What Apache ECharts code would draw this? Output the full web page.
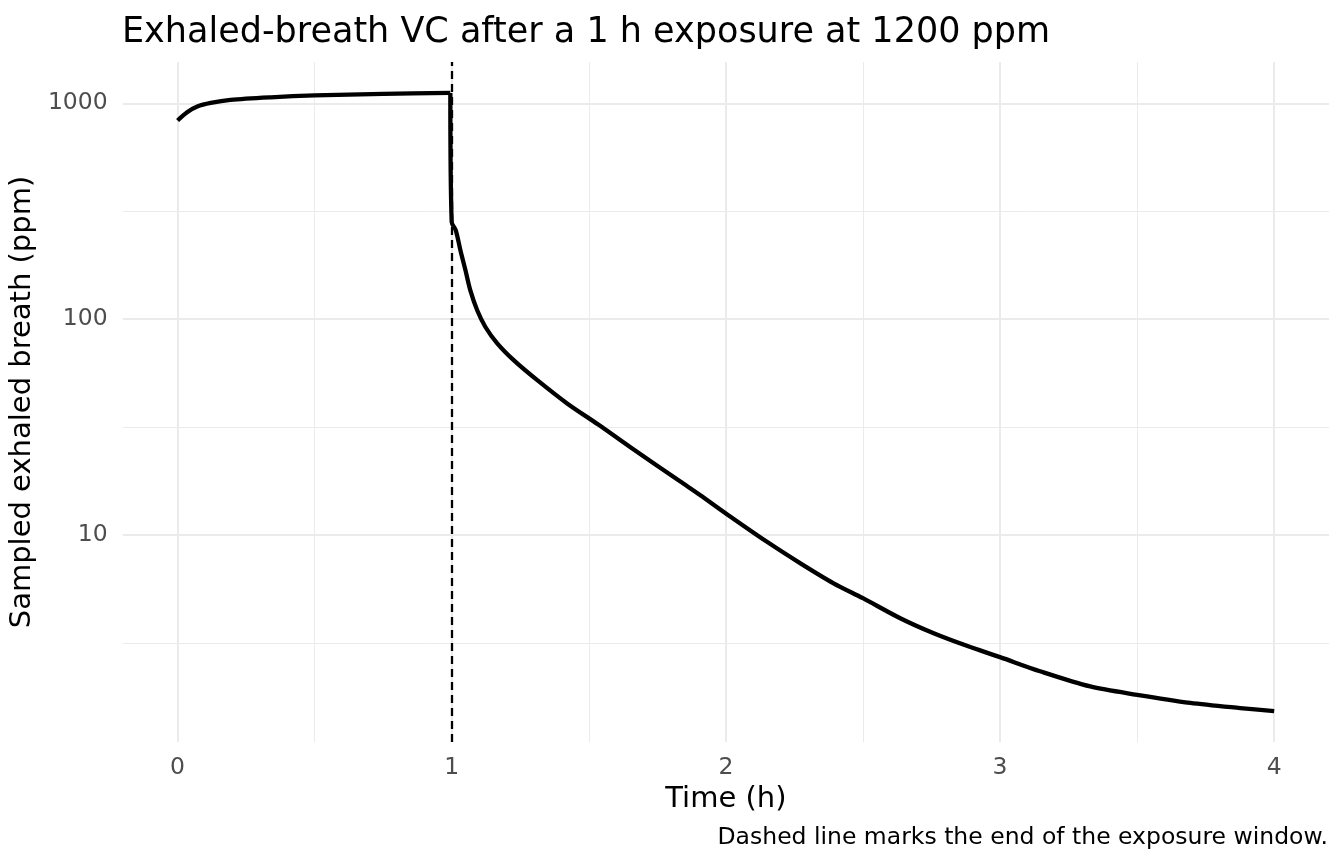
<!DOCTYPE html>
<html lang="en">
<head>
    <meta charset="UTF-8">
    <title>Exhaled-breath VC</title>
    <script src="https://cdn.jsdelivr.net/npm/echarts@6/dist/echarts.min.js"></script>
    <style>
        html, body { margin: 0; padding: 0; background: #fff; }
        #chart { width: 1344px; height: 864px; }
    </style>
</head>
<body>
<div id="chart"></div>
<script>
    // time since start of exposure (h) and sampled exhaled breath (ppm)
    const timeH = [0, 0.035, 0.072, 0.121, 0.193, 0.34, 0.5, 0.75, 0.995,
        1.0, 1.015, 1.032, 1.05, 1.068, 1.093, 1.123, 1.166, 1.226, 1.311, 1.421,
        1.536, 1.652, 1.834, 1.907, 2.0, 2.15, 2.272, 2.393, 2.5, 2.636, 2.758,
        2.879, 3.0, 3.146, 3.329, 3.5, 3.694, 3.876, 4.0];
    const breathPpm = [832, 909, 966, 1004, 1037, 1066, 1087, 1106, 1117,
        282, 258, 208, 169, 136, 110, 92, 77.3, 64.6, 52.3, 40.7,
        32.4, 25.5, 17.7, 15.3, 12.6, 9.31, 7.40, 5.98, 5.10, 4.12, 3.51,
        3.07, 2.72, 2.34, 1.99, 1.82, 1.67, 1.58, 1.53];

    const exposureEnd = 1;
    const xBreaks = [0, 1, 2, 3, 4];
    const xMinorBreaks = [0.5, 1.5, 2.5, 3.5];
    const yBreaks = [10, 100, 1000];
    const yMinorBreaks = [Math.sqrt(10), Math.sqrt(1000), Math.sqrt(100000)];

    // ggplot style 5% expansion of the data range (log space for y)
    const xMin = -0.2, xMax = 4.2;
    const lo = Math.log10(Math.min(...breathPpm)), hi = Math.log10(Math.max(...breathPpm));
    const pad = (hi - lo) * 0.05;
    const yMin = Math.pow(10, lo - pad), yMax = Math.pow(10, hi + pad);

    // split at the last sample before the drop so smoothing does not bulge over the corner
    const points = timeH.map((t, i) => [t, breathPpm[i]]);
    const lastIn = timeH.filter(t => t < exposureEnd).length - 1;
    const during = points.slice(0, lastIn + 1);
    const after = points.slice(lastIn);

    const gridColor = '#EBEBEB';
    const font = 'DejaVu Sans';
    const curveStyle = {color: '#000', width: 4.3, join: 'round', cap: 'butt'};

    function hiddenAxis(extra) {
        return Object.assign({
            axisLine: {show: false},
            axisTick: {show: false},
            axisLabel: {show: false},
            splitLine: {show: true, lineStyle: {color: gridColor, width: 1}}
        }, extra);
    }

    const chart = echarts.init(document.getElementById('chart'));

    const option = {
        animation: false,
        backgroundColor: '#fff',
        textStyle: {fontFamily: font},
        title: {
            text: 'Exhaled-breath VC after a 1 h exposure at 1200 ppm',
            left: 122,
            top: 15,
            padding: 0,
            textStyle: {fontFamily: font, fontSize: 35, fontWeight: 'normal', color: '#000'}
        },
        grid: {left: 122, right: 15, top: 62, bottom: 122},
        xAxis: [
            {
                type: 'value',
                min: xMin,
                max: xMax,
                axisLine: {show: false},
                axisTick: {show: false, customValues: xBreaks},
                axisLabel: {
                    customValues: xBreaks,
                    color: '#4D4D4D',
                    fontSize: 23.5,
                    margin: 14,
                    formatter: v => String(v)
                },
                splitLine: {show: true, lineStyle: {color: gridColor, width: 2}},
                name: 'Time (h)',
                nameLocation: 'middle',
                nameGap: 40,
                nameTextStyle: {fontSize: 29, color: '#000'}
            },
            hiddenAxis({
                type: 'value',
                min: xMin,
                max: xMax,
                position: 'bottom',
                axisTick: {show: false, customValues: xMinorBreaks}
            })
        ],
        yAxis: [
            {
                type: 'log',
                logBase: 10,
                min: yMin,
                max: yMax,
                axisLine: {show: false},
                axisTick: {show: false, customValues: yBreaks},
                axisLabel: {
                    customValues: yBreaks,
                    color: '#4D4D4D',
                    fontSize: 23.5,
                    margin: 15,
                    formatter: v => String(Math.round(v))
                },
                splitLine: {show: true, lineStyle: {color: gridColor, width: 2}},
                name: 'Sampled exhaled breath (ppm)',
                nameLocation: 'middle',
                nameRotate: 90,
                nameGap: 70,
                nameTextStyle: {fontSize: 29, color: '#000'}
            },
            hiddenAxis({
                type: 'log',
                logBase: 10,
                min: yMin,
                max: yMax,
                position: 'left',
                axisTick: {show: false, customValues: yMinorBreaks}
            })
        ],
        series: [
            {
                type: 'line',
                data: during,
                showSymbol: false,
                smooth: 0.3,
                lineStyle: curveStyle,
                z: 3
            },
            {
                type: 'line',
                data: after,
                showSymbol: false,
                smooth: 0.3,
                lineStyle: curveStyle,
                z: 3,
                markLine: {
                    silent: true,
                    symbol: 'none',
                    label: {show: false},
                    lineStyle: {color: '#000', width: 2.3, type: [8, 5]},
                    data: [{xAxis: exposureEnd}]
                }
            }
        ],
        graphic: [
            {
                type: 'text',
                right: 16,
                top: 826,
                style: {
                    text: 'Dashed line marks the end of the exposure window.',
                    font: '23.5px "DejaVu Sans"',
                    fill: '#000'
                }
            }
        ]
    };

    chart.setOption(option);
</script>
</body>
</html>
